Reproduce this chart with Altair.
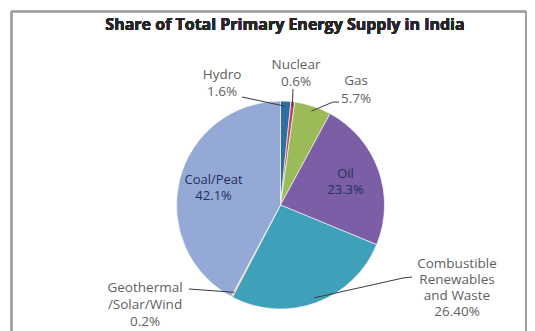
import math
import altair as alt
import pandas as pd

# ---------------- data ----------------
title = "Share of Total Primary Energy Supply in India"
sources = ["Hydro", "Nuclear", "Gas", "Oil",
           "Combustible Renewables and Waste", "Geothermal/Solar/Wind", "Coal/Peat"]
shares = [1.6, 0.6, 5.7, 23.3, 26.4, 0.2, 42.1]
share_labels = ["1.6%", "0.6%", "5.7%", "23.3%", "26.40%", "0.2%", "42.1%"]
name_lines = ["Hydro", "Nuclear", "Gas", "Oil",
              "Combustible\nRenewables\nand Waste", "Geothermal\n/Solar/Wind", "Coal/Peat"]
colors = ["#2e6fa3", "#b84a5b", "#9bbb59", "#7b5ea6", "#3fa0b9", "#f79646", "#94a9d5"]
inside = ["Oil", "Coal/Peat"]

# ---------------- layout (plot pixels) ----------------
W, H = 519, 323
CX, CY, R = 272.5, 197, 104
FONT = "Open Sans"
# position of the first text line of each outside label
label_pos = {
    "Hydro": (214, 67),
    "Nuclear": (288, 57),
    "Gas": (348, 73),
    "Combustible Renewables and Waste": (449, 256),
    "Geothermal/Solar/Wind": (137, 280),
}
line_height = {
    "Hydro": 17, "Nuclear": 17, "Gas": 18,
    "Combustible Renewables and Waste": 16, "Geothermal/Solar/Wind": 17,
}
leader_label_end = {
    "Hydro": [(234, 89)],
    "Nuclear": [(285, 81)],
    "Gas": [(331, 94), (325, 94)],
    "Combustible Renewables and Waste": [(404, 269), (395, 270)],
    "Geothermal/Solar/Wind": [(181, 281)],
}

# ---------------- tables ----------------
df = pd.DataFrame({
    "source": sources,
    "share": shares,
    "idx": list(range(len(sources))),
    "inner": [f"{n}\n{s}" if n in inside else "" for n, s in zip(name_lines, share_labels)],
})

total = sum(shares)
cum = 0.0
mid_angle = {}
for n, v in zip(sources, shares):
    mid_angle[n] = (cum + v / 2) / total * 2 * math.pi
    cum += v

out_rows = []
lead_rows = []
for n, nl, s in zip(sources, name_lines, share_labels):
    if n in label_pos:
        lx, ly = label_pos[n]
        out_rows.append({"x": lx, "y": ly, "text": f"{nl}\n{s}", "lh": line_height[n]})
        pts = list(leader_label_end[n])
        a = mid_angle[n]
        pts.append((CX + 0.95 * R * math.sin(a), CY - 0.95 * R * math.cos(a)))
        for k, (px, py) in enumerate(pts):
            lead_rows.append({"name": n, "ord": k, "x": px, "y": py})
out_df = pd.DataFrame(out_rows)
lead_df = pd.DataFrame(lead_rows)

color_scale = alt.Scale(domain=sources, range=colors)

pie = alt.Chart(df).mark_arc(radius=R, stroke="#ffffff", strokeWidth=0.6).encode(
    theta=alt.Theta("share:Q", stack=True),
    color=alt.Color("source:N", scale=color_scale, legend=None),
    order=alt.Order("idx:Q"),
    x=alt.value(CX), y=alt.value(CY),
)

inner_text = alt.Chart(df).mark_text(
    radius=69, font=FONT, fontSize=13, lineBreak="\n", lineHeight=16, dy=-8,
    color="#1f2f5c", align="center", baseline="middle"
).encode(
    theta=alt.Theta("share:Q", stack=True),
    order=alt.Order("idx:Q"),
    text="inner:N",
    x=alt.value(CX), y=alt.value(CY),
)

leaders = alt.Chart(lead_df).mark_line(color="#3a3a3a", strokeWidth=1).encode(
    x=alt.X("x:Q", scale=None, axis=None),
    y=alt.Y("y:Q", scale=None, axis=None),
    detail="name:N",
    order="ord:Q",
)

def outer_layer(lh):
    return alt.Chart(out_df).transform_filter(alt.datum.lh == lh).mark_text(
        font=FONT, fontSize=13.5, lineBreak="\n", lineHeight=lh,
        color="#5f5f5f", align="center", baseline="middle"
    ).encode(
        x=alt.X("x:Q", scale=None, axis=None),
        y=alt.Y("y:Q", scale=None, axis=None),
        text="text:N",
    )

outer_layers = [outer_layer(lh) for lh in sorted(set(line_height.values()))]

title_mark = alt.Chart(df).mark_text(
    font=FONT, fontSize=16, fontWeight="bold", color="#262626",
    align="center", baseline="middle"
).encode(x=alt.value(277), y=alt.value(17), text=alt.value(title))

bcol = "#a0a0a0"
border_left = alt.Chart(df).mark_rule(color=bcol, strokeWidth=1.5).encode(
    x=alt.value(3.5), y=alt.value(3.5), y2=alt.value(H))
border_top = alt.Chart(df).mark_rule(color=bcol, strokeWidth=1.5).encode(
    x=alt.value(3.5), x2=alt.value(W - 1), y=alt.value(3.5))
border_right = alt.Chart(df).mark_rule(color=bcol, strokeWidth=1.5).encode(
    x=alt.value(W - 1), y=alt.value(3.5), y2=alt.value(H))

chart = alt.layer(
    pie, inner_text, leaders, *outer_layers, title_mark,
    border_left, border_top, border_right
).properties(
    width=W, height=H, padding=0, autosize=alt.AutoSizeParams(type="none")
).configure_view(stroke=None)

chart.save("out.html", embed_options={"renderer": "svg", "actions": False})
